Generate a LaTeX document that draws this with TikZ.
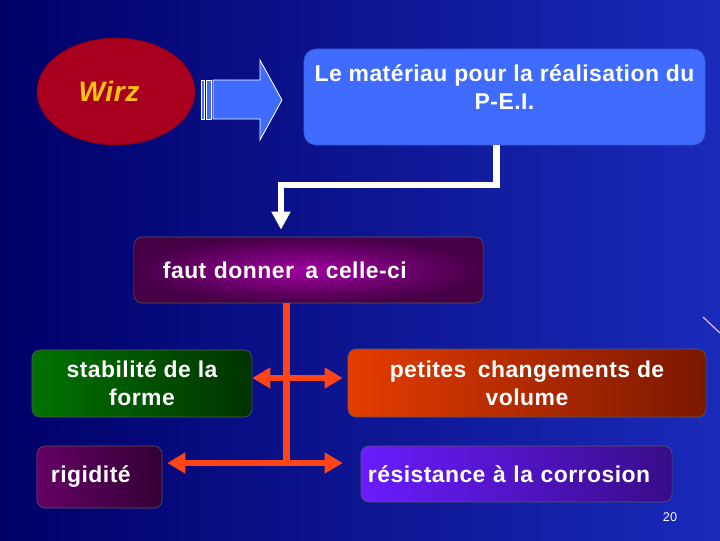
\documentclass[tikz,border=0pt]{standalone}
\usepackage{fontspec}
\setmainfont{Liberation Sans}[LetterSpace=2]
\usetikzlibrary{shapes.geometric, arrows.meta, positioning, calc}

\definecolor{bgdark}{HTML}{000068}
\definecolor{bglight}{HTML}{1A2ABA}
\definecolor{wirzred}{HTML}{A8001E}
\definecolor{wirzgold}{HTML}{FFC20E}
\definecolor{matblue}{HTML}{3F6CFF}
\definecolor{arrred}{HTML}{FF4418}
\definecolor{petitleft}{HTML}{E63C00}
\definecolor{petitright}{HTML}{7A1800}
\definecolor{resleft}{HTML}{6A1CFF}
\definecolor{resright}{HTML}{380C88}

\begin{document}
\begin{tikzpicture}[
    x=0.025cm, y=-0.025cm,
    font=\fontsize{16.3}{20}\selectfont\bfseries,
    box/.style={rectangle, draw=black!65, rounded corners=0.2cm, text=white,
                align=center, inner sep=0pt},
    leftbox/.style={box, align=left},
    wirzoval/.style={ellipse, draw=wirzred!70!black, fill=wirzred, inner sep=0pt,
                     minimum width=3.95cm, minimum height=2.675cm},
    wline/.style={draw=white, line width=4.5pt, line join=miter,
                  -{Triangle[width=0.45cm, length=0.45cm]}},
    rline/.style={draw=arrred, line width=4.3pt},
    rarr/.style={rline, {Triangle[width=0.5cm, length=0.45cm]}-{Triangle[width=0.5cm, length=0.45cm]}},
]

% fond
\useasboundingbox (0,0) rectangle (720,540);
\shade[left color=bgdark, right color=bglight] (0,0) rectangle (720,540);
\draw[violet!30!white, line width=0.9pt] (703,317) -- (720,333);

\node[wirzoval] (wirz) at (116,91.5)
     {\fontsize{20}{22}\selectfont\itshape\bfseries\color{wirzgold}Wirz\hspace*{0.35cm}};

% fleche bloc
\filldraw[fill=matblue, draw=white, line width=0.6pt]
    (213,80) -- (260,80) -- (260,60) -- (282,100) -- (260,140) -- (260,119) -- (213,119) -- cycle;
\filldraw[fill=matblue, draw=white, line width=0.6pt]
    (201,80) rectangle (204,119) (206,80) rectangle (211,119);

\node[box, fill=matblue, draw=matblue!80!black, rounded corners=0.3cm,
      minimum width=10.025cm, minimum height=2.4cm] (mat) at (504.5,97) {};
\node[anchor=north, text=white, align=center, inner sep=0pt] (matlbl) at (504.5,64)
     {Le matériau pour la réalisation du\\P-E.I.};

\node[leftbox, inner color=violet!75!magenta, outer color=violet!55!black,
      minimum width=8.725cm, minimum height=1.65cm,
      inner xsep=0.725cm, text width=7.275cm] (donner) at (308.5,270)
     {faut donner\enspace a celle-ci};

\node[box, left color=green!45!black, right color=green!20!black,
      minimum width=5.5cm, minimum height=1.675cm] (stab) at (142,383.5)
     {stabilité de la\\forme};
\node[box, left color=petitleft, right color=petitright,
      minimum width=8.95cm, minimum height=1.7cm] (petit) at (527,383)
     {petites\enspace changements de\\volume};
\node[leftbox, left color=violet!80!black, right color=violet!40!black,
      minimum width=3.125cm, minimum height=1.55cm,
      inner xsep=0.35cm, text width=2.425cm] (rig) at (99.5,477) {rigidité};
\node[leftbox, left color=resleft, right color=resright,
      minimum width=7.775cm, minimum height=1.4cm,
      inner xsep=0.175cm, text width=7.425cm] (res) at (516.5,474)
     {résistance à la corrosion};

\node[text=white, font=\fontsize{9}{10}\selectfont, inner sep=0pt] (page) at (670,517) {20};

% liaisons
\coordinate (bend) at (281,185);
\draw[wline, shorten >=0.175cm] ([xshift=-0.2cm]mat.south) |- (bend) -- (bend |- donner.north);

\coordinate (jct) at (286.5,463);
\coordinate (up) at (286.5,378);
\draw[rline] (donner.south -| jct) -- (jct);
\draw[rarr, shorten >=0.125cm] (up -| stab.east) -- (up -| petit.west);
\draw[rarr, shorten <=0.125cm, shorten >=0.45cm] (jct -| rig.east) -- (jct -| res.west);

\end{tikzpicture}
\end{document}
